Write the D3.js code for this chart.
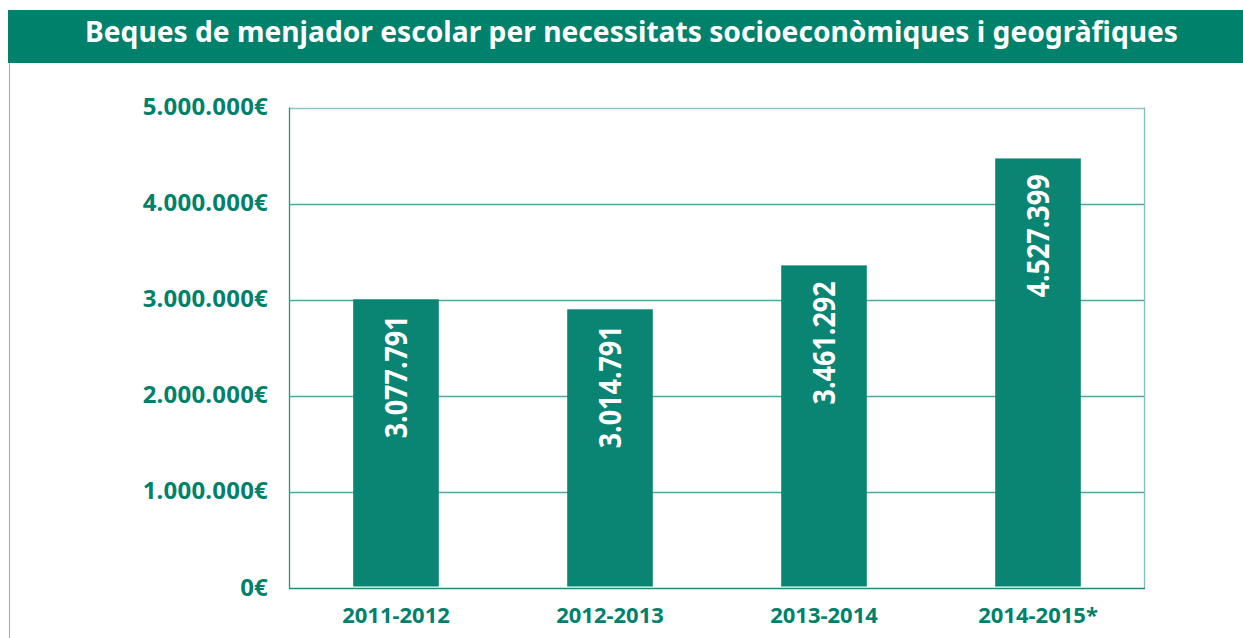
<!DOCTYPE html>
<html>
<head>
<meta charset="utf-8">
<script src="https://cdnjs.cloudflare.com/ajax/libs/d3/7.8.5/d3.min.js"></script>
<style>
  body { margin: 0; background: #fff; }
  svg { display: block; }
</style>
</head>
<body>
<script>
// data
var titleText = 'Beques de menjador escolar per necessitats socioeconòmiques i geogràfiques';
var years = ['2011-2012', '2012-2013', '2013-2014', '2014-2015*'];
var barValues = [3004000, 2900000, 3357000, 4470000]; // drawn bar heights
var valueLabels = ['3.077.791', '3.014.791', '3.461.292', '4.527.399'];
var yTicks = [0, 1000000, 2000000, 3000000, 4000000, 5000000];
var yTickLabels = ['0€', '1.000.000€', '2.000.000€', '3.000.000€', '4.000.000€', '5.000.000€'];

var svgWidth = 1243, svgHeight = 638;
var green = '#00816c';
var barColor = '#0a8473';
var font = '"Noto Sans", "Open Sans", sans-serif';

var svg = d3.select('body').append('svg')
  .attr('width', svgWidth)
  .attr('height', svgHeight);

// title band
svg.append('rect')
  .attr('x', 8).attr('y', 10)
  .attr('width', svgWidth - 8).attr('height', 53)
  .attr('fill', green);
svg.append('text')
  .attr('x', 85).attr('y', 42)
  .attr('fill', '#fff')
  .attr('font-family', font)
  .attr('font-weight', 'bold')
  .attr('font-size', '28px')
  .attr('textLength', 1093)
  .attr('lengthAdjust', 'spacingAndGlyphs')
  .text(titleText);

// left frame line
svg.append('line')
  .attr('x1', 9.5).attr('x2', 9.5)
  .attr('y1', 63).attr('y2', svgHeight)
  .attr('stroke', '#7fb8ae').attr('stroke-width', 1);

var plot = { left: 289, right: 1145, top: 107.5, bottom: 588 };

var x = d3.scaleBand()
  .domain(years)
  .range([plot.left, plot.right])
  .paddingInner(0.6)
  .paddingOuter(0.3);

var y = d3.scaleLinear()
  .domain([0, 5000000])
  .range([plot.bottom, plot.top]);

// gridlines
svg.selectAll('.grid')
  .data(yTicks.slice(1))
  .enter().append('line')
  .attr('class', 'grid')
  .attr('x1', plot.left).attr('x2', plot.right)
  .attr('y1', function(d) { return Math.round(y(d)) + 0.5; })
  .attr('y2', function(d) { return Math.round(y(d)) + 0.5; })
  .attr('stroke', function(d) { return d === 5000000 ? '#8cc7bd' : '#4fa899'; })
  .attr('stroke-width', 1.3);

// side frame lines
svg.append('line')
  .attr('x1', plot.left + 0.5).attr('x2', plot.left + 0.5)
  .attr('y1', plot.top).attr('y2', plot.bottom)
  .attr('stroke', '#2f9282').attr('stroke-width', 1.3);
svg.append('line')
  .attr('x1', plot.right - 0.5).attr('x2', plot.right - 0.5)
  .attr('y1', plot.top).attr('y2', plot.bottom)
  .attr('stroke', '#7fc0b5').attr('stroke-width', 1.3);

// bars
svg.selectAll('.bar')
  .data(barValues)
  .enter().append('rect')
  .attr('class', 'bar')
  .attr('x', function(d, i) { return x(years[i]); })
  .attr('width', x.bandwidth())
  .attr('y', function(d) { return y(d); })
  .attr('height', function(d) { return y(0) - 1.5 - y(d); })
  .attr('fill', barColor);

// baseline
svg.append('line')
  .attr('x1', plot.left).attr('x2', plot.right)
  .attr('y1', plot.bottom + 0.5).attr('y2', plot.bottom + 0.5)
  .attr('stroke', '#1f8a78').attr('stroke-width', 1.5);

// value labels inside bars
svg.selectAll('.valueText')
  .data(barValues)
  .enter().append('text')
  .attr('class', 'valueText')
  .attr('transform', function(d, i) {
    var cx = x(years[i]) + x.bandwidth() / 2;
    return 'translate(' + (cx + 11) + ',' + (y(d) + 16) + ')rotate(-90)';
  })
  .attr('text-anchor', 'end')
  .attr('fill', '#fff')
  .attr('font-family', font)
  .attr('font-weight', 'bold')
  .attr('font-size', '30px')
  .attr('textLength', 123)
  .attr('lengthAdjust', 'spacingAndGlyphs')
  .text(function(d, i) { return valueLabels[i]; });

// y tick labels
svg.selectAll('.yText')
  .data(yTicks)
  .enter().append('text')
  .attr('class', 'yText')
  .attr('x', 268)
  .attr('y', function(d) { return y(d) + 7.5; })
  .attr('text-anchor', 'end')
  .attr('fill', green)
  .attr('font-family', font)
  .attr('font-weight', 'bold')
  .attr('font-size', '24px')
  .attr('letter-spacing', '0.2px')
  .text(function(d, i) { return yTickLabels[i]; });

// x labels
svg.selectAll('.xText')
  .data(years)
  .enter().append('text')
  .attr('class', 'xText')
  .attr('x', function(d) { return x(d) + x.bandwidth() / 2; })
  .attr('y', 623)
  .attr('text-anchor', 'middle')
  .attr('fill', green)
  .attr('font-family', font)
  .attr('font-weight', 'bold')
  .attr('font-size', '22px')
  .text(function(d) { return d; });
</script>
</body>
</html>
